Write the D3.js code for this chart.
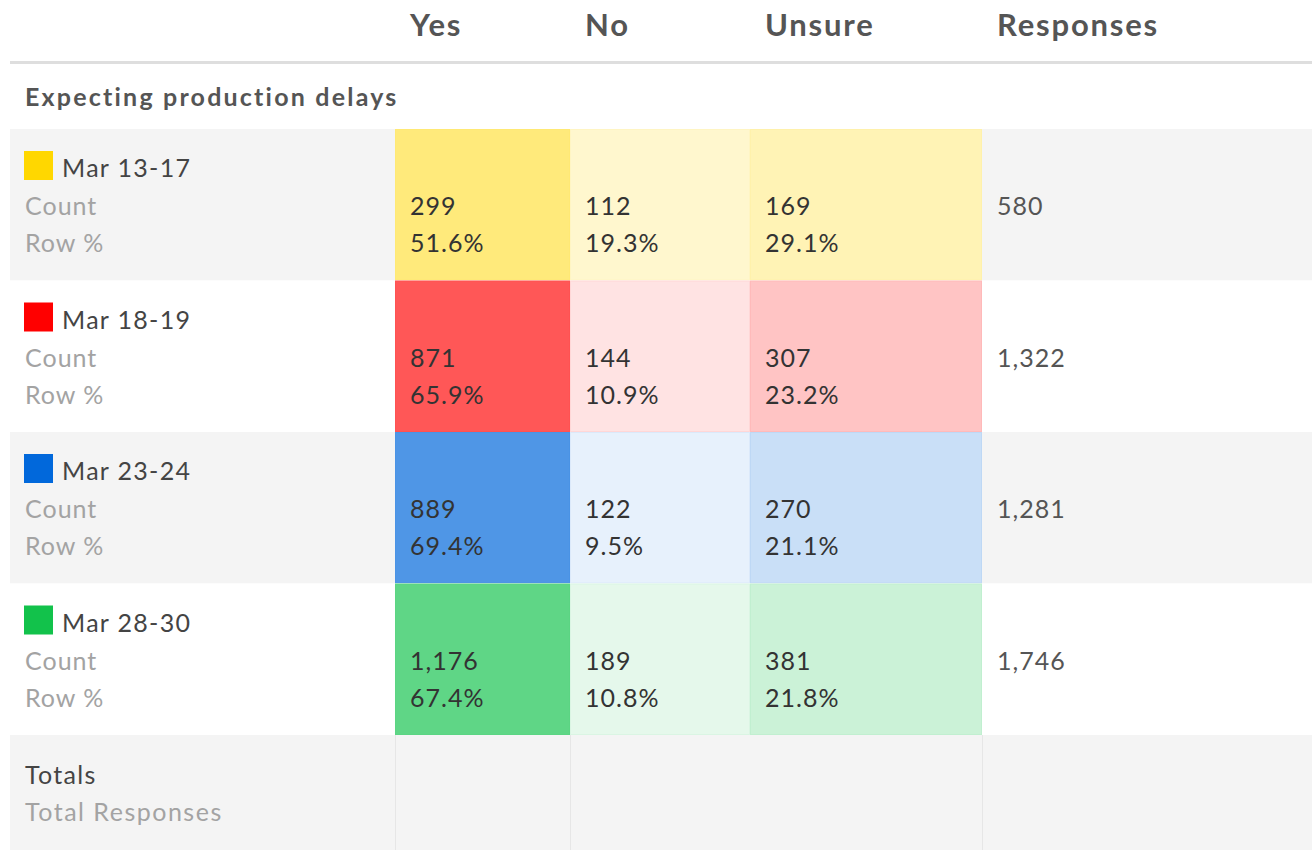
<!DOCTYPE html>
<html>
<head>
<meta charset="utf-8">
<script src="https://cdn.jsdelivr.net/npm/d3@7"></script>
<style>
  body { margin: 0; background: #fff; }
  svg { display: block; font-family: Lato, "Open Sans", sans-serif; }
</style>
</head>
<body>
<div class="canvas"></div>
<script>
var W = 1312, H = 850;

// data
var columns = ['Yes', 'No', 'Unsure'];
var periods = ['Mar 13-17', 'Mar 18-19', 'Mar 23-24', 'Mar 28-30'];
var swatches = ['#ffd700', '#ff0000', '#0168db', '#12c24b'];
var counts = [
	[299, 112, 169],
	[871, 144, 307],
	[889, 122, 270],
	[1176, 189, 381]
];
var row_pcts = [
	[51.6, 19.3, 29.1],
	[65.9, 10.9, 23.2],
	[69.4, 9.5, 21.1],
	[67.4, 10.8, 21.8]
];
var responses = [580, 1322, 1281, 1746];
var section_title = 'Expecting production delays';

var col_left = d3.scaleOrdinal()
	.domain(['label', 'Yes', 'No', 'Unsure', 'Responses', 'end'])
	.range([10, 395, 570, 750, 982, 1312]);
var col_right = function(c) {
	var d = col_left.domain();
	return col_left(d[d.indexOf(c) + 1]);
};
var y = d3.scaleBand().domain(periods).range([129, 735]).paddingInner(0);
var alpha = d3.scaleLinear().domain([0, 100]).range([0, 1]);
var fmt = d3.format(',');
var fmt_pct = function(v) { return d3.format('.1f')(v) + '%'; };

var svg = d3.select('div.canvas').append('svg').attr('width', W).attr('height', H);

// header
svg.selectAll('text.head')
	.data(columns.concat(['Responses']))
	.enter().append('text')
	.attr('class', 'head')
	.attr('x', function(d) { return col_left(d) + 15; })
	.attr('y', 36)
	.attr('fill', '#555')
	.style('font-size', '31px')
	.style('font-weight', 'bold')
	.style('letter-spacing', '1.8px')
	.text(function(d) { return d; });

svg.append('rect')
	.attr('x', 10).attr('y', 61).attr('width', W - 10).attr('height', 3)
	.attr('fill', '#dedede');

svg.append('text')
	.attr('x', 25).attr('y', 106)
	.attr('fill', '#555')
	.style('font-size', '25px')
	.style('font-weight', 'bold')
	.style('letter-spacing', '2.2px')
	.text(section_title);

// rows
var rows = svg.selectAll('g.row')
	.data(periods)
	.enter().append('g')
	.attr('class', 'row')
	.attr('transform', function(d) { return 'translate(0,' + y(d) + ')'; });

rows.append('rect')
	.attr('x', 10).attr('width', W - 10).attr('height', y.bandwidth())
	.attr('fill', function(d, i) { return i % 2 == 0 ? '#f4f4f4' : '#fff'; });

rows.append('rect')
	.attr('x', 24).attr('y', 22).attr('width', 29).attr('height', 29)
	.attr('fill', function(d, i) { return swatches[i]; });

rows.append('text')
	.attr('x', 62).attr('y', 48)
	.attr('fill', '#444')
	.style('font-size', '25px')
	.style('letter-spacing', '1.3px')
	.text(function(d) { return d; });

rows.append('text')
	.attr('x', 25).attr('y', 86)
	.attr('fill', '#a3a3a3')
	.style('font-size', '25px')
	.style('letter-spacing', '1px')
	.text('Count');

rows.append('text')
	.attr('x', 25).attr('y', 123)
	.attr('fill', '#a3a3a3')
	.style('font-size', '25px')
	.style('letter-spacing', '1px')
	.text('Row %');

rows.each(function(p, i) {
	var g = d3.select(this);
	var cells = g.selectAll('g.cell')
		.data(columns)
		.enter().append('g')
		.attr('class', 'cell')
		.attr('transform', function(c) { return 'translate(' + col_left(c) + ',0)'; });
	cells.append('rect')
		.attr('width', function(c) { return col_right(c) - col_left(c); })
		.attr('height', y.bandwidth())
		.attr('fill', '#fff');
	cells.append('rect')
		.attr('width', function(c) { return col_right(c) - col_left(c); })
		.attr('height', y.bandwidth())
		.attr('fill', swatches[i])
		.attr('fill-opacity', function(c, j) { return alpha(row_pcts[i][j]); });
	cells.append('rect')
		.attr('x', 0.5).attr('y', 0.5)
		.attr('width', function(c) { return col_right(c) - col_left(c) - 1; })
		.attr('height', y.bandwidth() - 1)
		.attr('fill', 'none')
		.attr('stroke', swatches[i])
		.attr('stroke-opacity', 0.05);
	cells.append('text')
		.attr('x', 15).attr('y', 86)
		.attr('fill', '#333')
		.style('font-size', '25px')
		.style('letter-spacing', '1px')
		.text(function(c, j) { return fmt(counts[i][j]); });
	cells.append('text')
		.attr('x', 15).attr('y', 123)
		.attr('fill', '#333')
		.style('font-size', '25px')
		.style('letter-spacing', '1px')
		.text(function(c, j) { return fmt_pct(row_pcts[i][j]); });

	g.append('text')
		.attr('x', col_left('Responses') + 15).attr('y', 86)
		.attr('fill', '#555')
		.style('font-size', '25px')
		.style('letter-spacing', '1px')
		.text(fmt(responses[i]));
});

// totals
var ty = y.range()[1];
svg.append('rect')
	.attr('x', 10).attr('y', ty).attr('width', W - 10).attr('height', H - ty)
	.attr('fill', '#f4f4f4');
svg.selectAll('line.tot')
	.data(['Yes', 'No', 'Responses'])
	.enter().append('line')
	.attr('class', 'tot')
	.attr('x1', function(c) { return col_left(c) + 0.5; })
	.attr('x2', function(c) { return col_left(c) + 0.5; })
	.attr('y1', ty).attr('y2', H)
	.attr('stroke', '#e6e6e6');
svg.append('text')
	.attr('x', 25).attr('y', ty + 49)
	.attr('fill', '#444')
	.style('font-size', '25px')
	.style('letter-spacing', '1.3px')
	.text('Totals');
svg.append('text')
	.attr('x', 25).attr('y', ty + 86)
	.attr('fill', '#a3a3a3')
	.style('font-size', '25px')
	.style('letter-spacing', '1.5px')
	.text('Total Responses');
</script>
</body>
</html>
